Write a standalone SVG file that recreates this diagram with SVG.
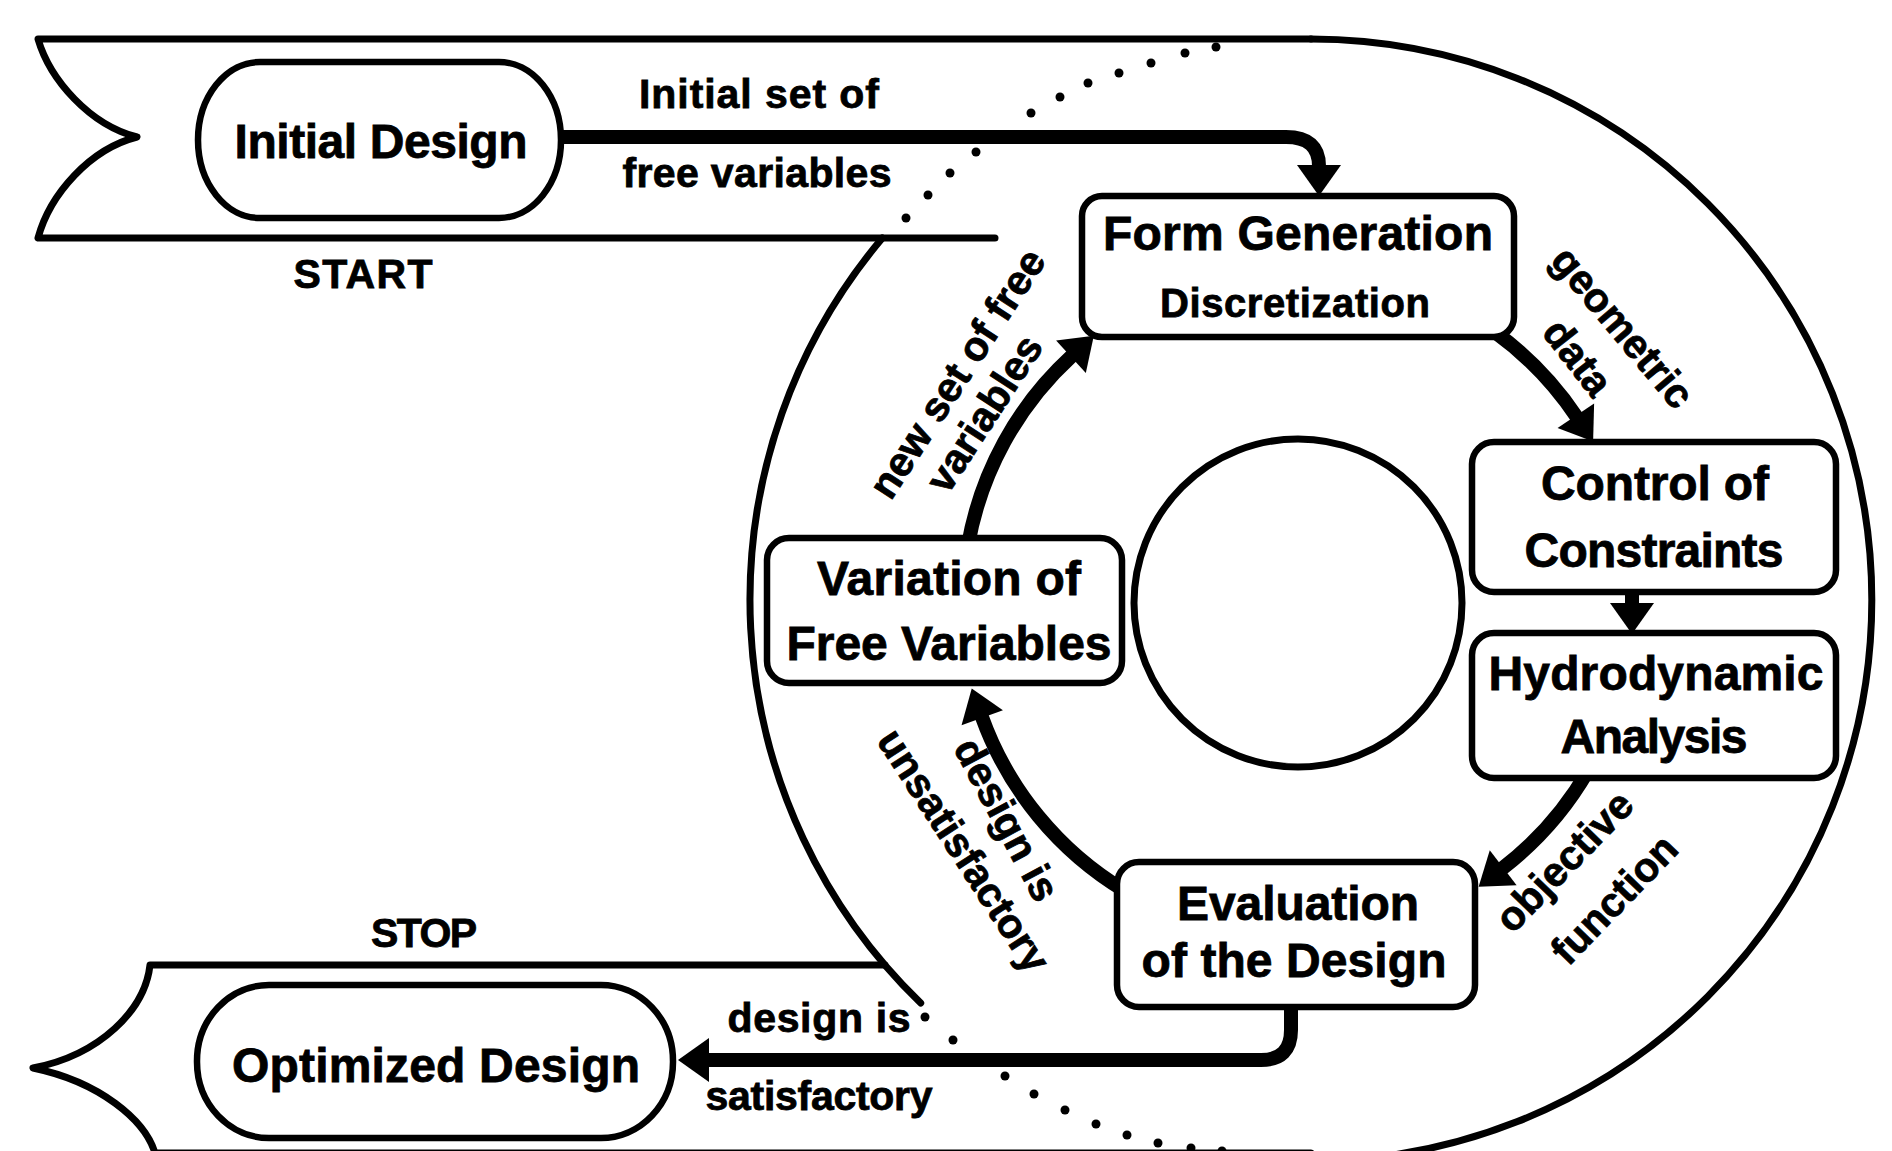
<svg xmlns="http://www.w3.org/2000/svg" width="1892" height="1151" viewBox="0 0 1892 1151">
  <defs>
    <style>
      .outline { fill: none; stroke: #000; stroke-width: 7; stroke-linejoin: round; stroke-linecap: round; }
      .dot { fill: #000; }
      .box { fill: #fff; stroke: #000; stroke-width: 6.5; }
      .flow { fill: none; stroke: #000; stroke-width: 14; stroke-linejoin: round; marker-end: url(#head); }
      text { font-family: "Liberation Sans", Arial, Helvetica, sans-serif; font-weight: bold; fill: #000; stroke: #000; stroke-width: 0.8; }
      .nt { font-size: 48px; text-anchor: middle; }
      .sub { font-size: 40px; text-anchor: middle; }
      .lbl { font-size: 41px; text-anchor: middle; }
    </style>
    <marker id="head" markerUnits="userSpaceOnUse" markerWidth="32" markerHeight="46" refX="0" refY="23" orient="auto" overflow="visible">
      <path d="M-1,1 L30,23 L-1,45 Z" fill="#000"/>
    </marker>
  </defs>

  <rect width="1892" height="1151" fill="#fff"/>

  <!-- band wrapped around the drum -->
  <g id="band">
    <path class="outline" d="M1311,39 H38 C50,80 90,125 137,137 C90,149 50,194 38,238 H995"/>
    <path class="outline" d="M1311,39 A561,561 0 0 1 1311,1161"/>
    <path class="outline" d="M882.4,238 A561,561 0 0 0 920.7,1003"/>
    <path class="outline" d="M885,965 H150 C145,1010 100,1055 33,1068 C100,1082 145,1120 155,1153 H1311"/>
    <!-- hidden part of the drum rim -->
    <g class="dot">
      <circle cx="906" cy="218" r="4.5"/>
      <circle cx="928" cy="195" r="4.5"/>
      <circle cx="950" cy="173" r="4.5"/>
      <circle cx="976" cy="152" r="4.5"/>
      <circle cx="1031" cy="113" r="4.5"/>
      <circle cx="1060" cy="97" r="4.5"/>
      <circle cx="1088" cy="83" r="4.5"/>
      <circle cx="1119" cy="73" r="4.5"/>
      <circle cx="1151" cy="63" r="4.5"/>
      <circle cx="1185" cy="53" r="4.5"/>
      <circle cx="1216" cy="47" r="4.5"/>
      <circle cx="925" cy="1017" r="4.5"/>
      <circle cx="953" cy="1040" r="4.5"/>
      <circle cx="1005" cy="1076" r="4.5"/>
      <circle cx="1034" cy="1094" r="4.5"/>
      <circle cx="1065" cy="1110" r="4.5"/>
      <circle cx="1096" cy="1124" r="4.5"/>
      <circle cx="1127" cy="1135" r="4.5"/>
      <circle cx="1158" cy="1143" r="4.5"/>
      <circle cx="1191" cy="1148" r="4.5"/>
      <circle cx="1222" cy="1151" r="4.5"/>
    </g>
    <text class="lbl" x="363" y="288" textLength="139">START</text>
    <text class="lbl" x="424" y="947" textLength="106">STOP</text>
  </g>

  <!-- connectors -->
  <g id="connectors">
    <path class="flow" d="M560,137 H1286 Q1319,137 1319,166"/>
    <path class="flow" d="M1494.9,332 A335,335 0 0 1 1576.4,416.6"/>
    <path class="flow" d="M1632,590 V604"/>
    <path class="flow" d="M1588.1,770.5 A335,335 0 0 1 1502.4,868.4"/>
    <path class="flow" d="M1125,891 A336,336 0 0 1 981.9,716.8"/>
    <path class="flow" d="M968.1,544.8 A335,335 0 0 1 1071.7,356"/>
    <path class="flow" d="M1291,1005 V1030 Q1291,1060 1261,1060 H708"/>
  </g>

  <!-- connector labels -->
  <g id="labels">
    <text class="lbl" x="759" y="108" textLength="240">Initial set of</text>
    <text class="lbl" x="757" y="187" textLength="269">free variables</text>
    <text class="lbl" x="819" y="1032" textLength="183">design is</text>
    <text class="lbl" x="819" y="1110" textLength="227">satisfactory</text>
    <text class="lbl" transform="translate(958,374) rotate(-57)" y="13">new set of free</text>
    <text class="lbl" transform="translate(985,414) rotate(-57)" y="13">variables</text>
    <text class="lbl" transform="translate(1622,328) rotate(50)" y="13">geometric</text>
    <text class="lbl" transform="translate(1577,358) rotate(52)" y="13">data</text>
    <text class="lbl" transform="translate(1565,862) rotate(-46)" y="13">objective</text>
    <text class="lbl" transform="translate(1615,900) rotate(-46)" y="13">function</text>
    <text class="lbl" transform="translate(1006,820) rotate(62)" y="13">design is</text>
    <text class="lbl" transform="translate(963,851) rotate(57)" y="13">unsatisfactory</text>
  </g>

  <!-- empty hub in the middle of the loop -->
  <g id="hub">
    <circle class="outline" cx="1298" cy="603" r="164"/>
  </g>

  <!-- nodes -->
  <g id="initial-design">
    <rect class="box" x="198" y="62" width="363" height="156" rx="62" ry="78"/>
    <text class="nt" x="381" y="158" textLength="293">Initial Design</text>
  </g>
  <g id="form-generation">
    <rect class="box" x="1082" y="196" width="432" height="141" rx="20"/>
    <text class="nt" x="1298" y="250" textLength="390">Form Generation</text>
    <text class="sub" x="1295" y="317" textLength="270">Discretization</text>
  </g>
  <g id="control-of-constraints">
    <rect class="box" x="1472" y="442" width="364" height="150" rx="22"/>
    <text class="nt" x="1655" y="500" textLength="228">Control of</text>
    <text class="nt" x="1654" y="567" textLength="259">Constraints</text>
  </g>
  <g id="hydrodynamic-analysis">
    <rect class="box" x="1472" y="633" width="364" height="145" rx="22"/>
    <text class="nt" x="1656" y="690" textLength="335">Hydrodynamic</text>
    <text class="nt" x="1654" y="753" textLength="187">Analysis</text>
  </g>
  <g id="evaluation">
    <rect class="box" x="1117" y="862" width="358" height="145" rx="22"/>
    <text class="nt" x="1298" y="920" textLength="242">Evaluation</text>
    <text class="nt" x="1294" y="977" textLength="305">of the Design</text>
  </g>
  <g id="variation">
    <rect class="box" x="767" y="538" width="355" height="145" rx="22"/>
    <text class="nt" x="949" y="595" textLength="264">Variation of</text>
    <text class="nt" x="949" y="660" textLength="325">Free Variables</text>
  </g>
  <g id="optimized-design">
    <rect class="box" x="197" y="985" width="476" height="153" rx="72" ry="76"/>
    <text class="nt" x="436" y="1082" textLength="408">Optimized Design</text>
  </g>
</svg>
